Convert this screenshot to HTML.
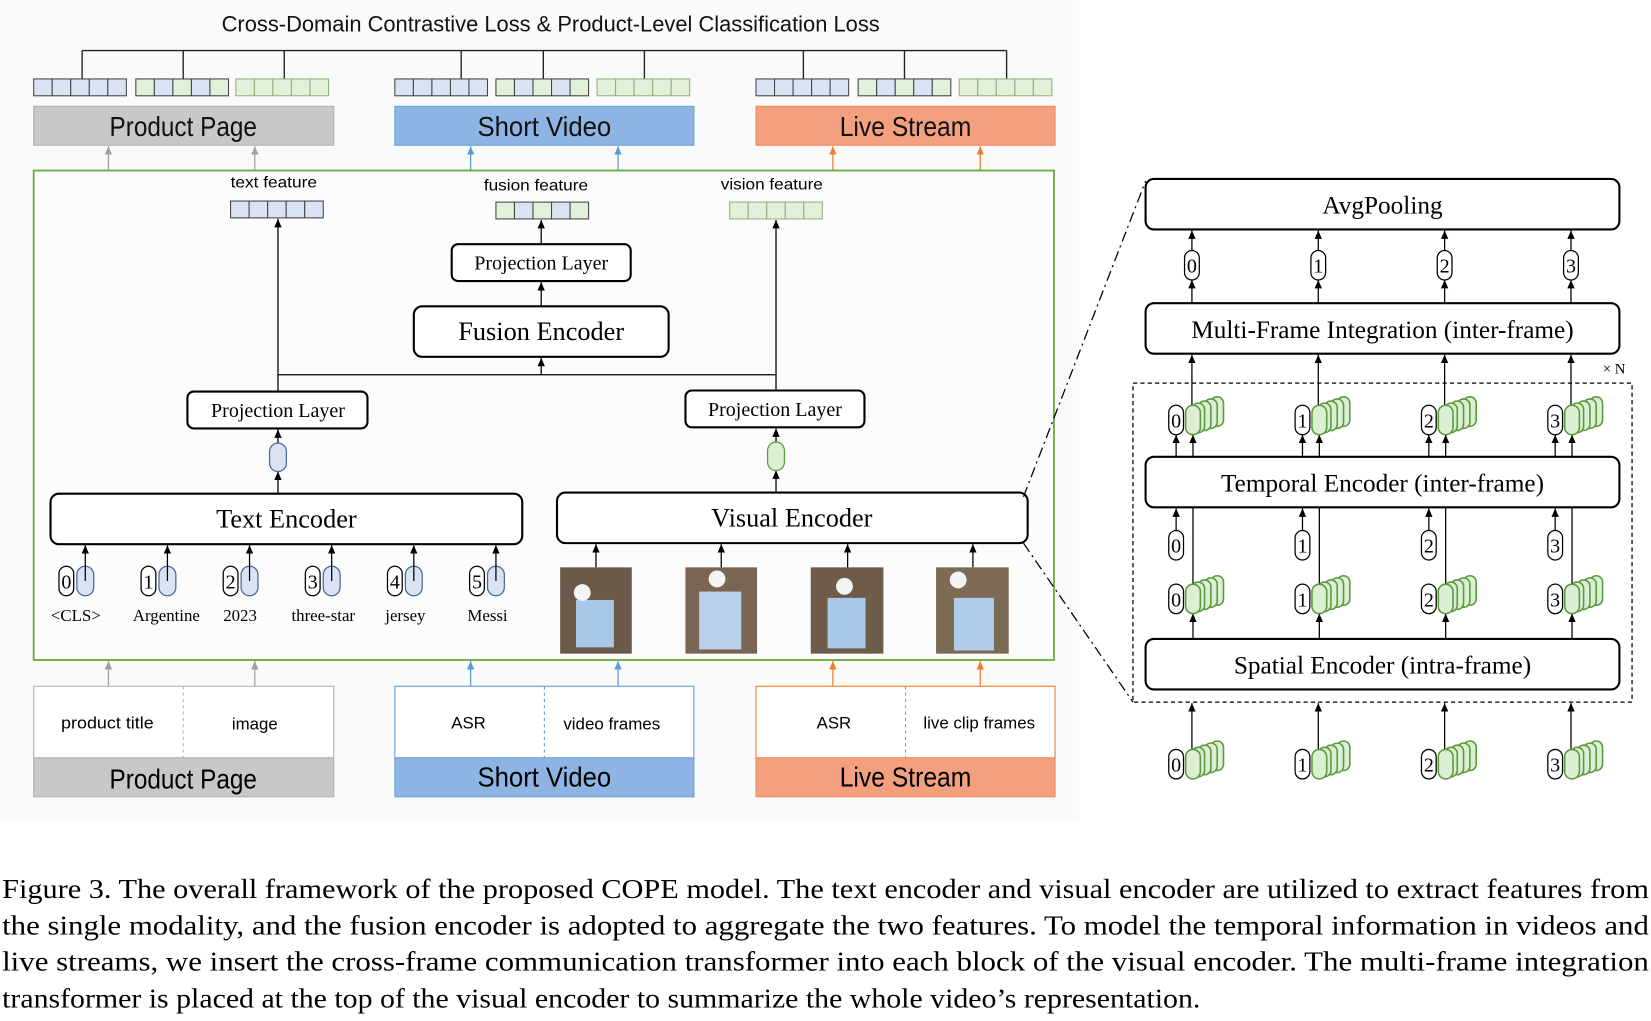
<!DOCTYPE html>
<html><head><meta charset="utf-8"><style>
html,body{margin:0;padding:0;background:#fff;}
svg{display:block;}
.c{font-family:"Liberation Sans Narrow","Liberation Sans",sans-serif;}
.t{font-family:"Liberation Serif",serif;}
</style></head><body>
<svg width="1651" height="1021" viewBox="0 0 1568 970" preserveAspectRatio="none" xmlns="http://www.w3.org/2000/svg">
<defs>
<marker id="a" markerWidth="9" markerHeight="8" refX="8" refY="4" orient="auto" markerUnits="userSpaceOnUse"><path d="M0,0.5 L8,4 L0,7.5 Z" fill="#000"/></marker>
<marker id="ag" markerWidth="9" markerHeight="8" refX="8" refY="4" orient="auto" markerUnits="userSpaceOnUse"><path d="M0,0.5 L8,4 L0,7.5 Z" fill="#a0a0a0"/></marker>
<marker id="ab" markerWidth="9" markerHeight="8" refX="8" refY="4" orient="auto" markerUnits="userSpaceOnUse"><path d="M0,0.5 L8,4 L0,7.5 Z" fill="#5b9bd5"/></marker>
<marker id="ao" markerWidth="9" markerHeight="8" refX="8" refY="4" orient="auto" markerUnits="userSpaceOnUse"><path d="M0,0.5 L8,4 L0,7.5 Z" fill="#ed7d31"/></marker>
<g id="vB"><rect x="0" y="0" width="17.6" height="16" fill="#dae3f3" stroke="#444"/><rect x="17.6" y="0" width="17.6" height="16" fill="#dae3f3" stroke="#444"/><rect x="35.2" y="0" width="17.6" height="16" fill="#dae3f3" stroke="#444"/><rect x="52.8" y="0" width="17.6" height="16" fill="#dae3f3" stroke="#444"/><rect x="70.4" y="0" width="17.6" height="16" fill="#dae3f3" stroke="#444"/></g>
<g id="vG"><rect x="0" y="0" width="17.6" height="16" fill="#e2efd9" stroke="#8fb07a"/><rect x="17.6" y="0" width="17.6" height="16" fill="#e2efd9" stroke="#8fb07a"/><rect x="35.2" y="0" width="17.6" height="16" fill="#e2efd9" stroke="#8fb07a"/><rect x="52.8" y="0" width="17.6" height="16" fill="#e2efd9" stroke="#8fb07a"/><rect x="70.4" y="0" width="17.6" height="16" fill="#e2efd9" stroke="#8fb07a"/></g>
<g id="vM"><rect x="0" y="0" width="17.6" height="16" fill="#e2efd9" stroke="#444"/><rect x="17.6" y="0" width="17.6" height="16" fill="#dae3f3" stroke="#444"/><rect x="35.2" y="0" width="17.6" height="16" fill="#e2efd9" stroke="#444"/><rect x="52.8" y="0" width="17.6" height="16" fill="#dae3f3" stroke="#444"/><rect x="70.4" y="0" width="17.6" height="16" fill="#e2efd9" stroke="#444"/></g>
<g id="stk" fill="#dcefd4" stroke="#5a9a3c" stroke-width="1.5">
<rect x="24" y="-8" width="12" height="28" rx="6"/><rect x="18" y="-6" width="12" height="28" rx="6"/><rect x="12" y="-4" width="12" height="28" rx="6"/><rect x="6" y="-2" width="12" height="28" rx="6"/><rect x="0" y="0" width="14" height="28" rx="7"/></g>
<rect id="cap" x="0" y="0" width="14" height="28" rx="7" fill="#fff" stroke="#000" stroke-width="1.2"/>
<rect id="capB" x="0" y="0" width="16" height="28" rx="8" fill="#dae3f3" stroke="#4a6a9a" stroke-width="1.2"/>
</defs>
<rect x="0" y="0" width="1025" height="780" fill="#fafafa"/>
<text class="c" x="523" y="30" font-size="21" text-anchor="middle" fill="#111" textLength="625" lengthAdjust="spacingAndGlyphs">Cross-Domain Contrastive Loss &amp; Product-Level Classification Loss</text>
<g stroke="#222" stroke-width="1.3" fill="none">
<path d="M78,48 H956 M78,48 V75 M174,48 V75 M270,48 V75 M438,48 V75 M516,48 V75 M612,48 V75 M763,48 V75 M859,48 V75 M956,48 V75"/>
</g>
<use href="#vB" x="32" y="75"/><use href="#vM" x="129" y="75"/><use href="#vG" x="224" y="75"/>
<use href="#vB" x="375" y="75"/><use href="#vM" x="471" y="75"/><use href="#vG" x="567" y="75"/>
<use href="#vB" x="718" y="75"/><use href="#vM" x="815" y="75"/><use href="#vG" x="911" y="75"/>
<rect x="32" y="101" width="285" height="37" fill="#c8c8c8" stroke="#b0b0b0"/>
<rect x="375" y="101" width="284" height="37" fill="#8db4e2" stroke="#6a9fd6"/>
<rect x="718" y="101" width="284" height="37" fill="#f4a07e" stroke="#ed8a5e"/>
<text class="c" x="174" y="129" font-size="26" text-anchor="middle" fill="#111" textLength="140" lengthAdjust="spacingAndGlyphs">Product Page</text>
<text class="c" x="517" y="129" font-size="26" text-anchor="middle" fill="#111" textLength="127" lengthAdjust="spacingAndGlyphs">Short Video</text>
<text class="c" x="860" y="129" font-size="26" text-anchor="middle" fill="#111" textLength="125" lengthAdjust="spacingAndGlyphs">Live Stream</text>
<g stroke-width="1.2">
<line x1="103" y1="162" x2="103" y2="139" stroke="#a0a0a0" marker-end="url(#ag)"/><line x1="242" y1="162" x2="242" y2="139" stroke="#a0a0a0" marker-end="url(#ag)"/>
<line x1="447" y1="162" x2="447" y2="139" stroke="#5b9bd5" marker-end="url(#ab)"/><line x1="587" y1="162" x2="587" y2="139" stroke="#5b9bd5" marker-end="url(#ab)"/>
<line x1="791" y1="162" x2="791" y2="139" stroke="#ed7d31" marker-end="url(#ao)"/><line x1="931" y1="162" x2="931" y2="139" stroke="#ed7d31" marker-end="url(#ao)"/>
<line x1="103" y1="652" x2="103" y2="628" stroke="#a0a0a0" marker-end="url(#ag)"/><line x1="242" y1="652" x2="242" y2="628" stroke="#a0a0a0" marker-end="url(#ag)"/>
<line x1="447" y1="652" x2="447" y2="628" stroke="#5b9bd5" marker-end="url(#ab)"/><line x1="587" y1="652" x2="587" y2="628" stroke="#5b9bd5" marker-end="url(#ab)"/>
<line x1="791" y1="652" x2="791" y2="628" stroke="#ed7d31" marker-end="url(#ao)"/><line x1="931" y1="652" x2="931" y2="628" stroke="#ed7d31" marker-end="url(#ao)"/>
</g>
<rect x="32" y="162" width="969" height="465" fill="#fcfcfc" stroke="#70ad47" stroke-width="1.8"/>
<text class="c" x="260" y="178" font-size="15" text-anchor="middle" textLength="82" lengthAdjust="spacingAndGlyphs">text feature</text>
<text class="c" x="509" y="181" font-size="15" text-anchor="middle" textLength="99" lengthAdjust="spacingAndGlyphs">fusion feature</text>
<text class="c" x="733" y="180" font-size="15" text-anchor="middle" textLength="97" lengthAdjust="spacingAndGlyphs">vision feature</text>
<use href="#vB" x="219" y="191"/><use href="#vM" x="471" y="192"/><use href="#vG" x="693" y="192"/>
<g fill="#fff" stroke="#000" stroke-width="2">
<rect x="429" y="232" width="170" height="35" rx="6"/>
<rect x="393" y="291" width="242" height="48" rx="8"/>
<rect x="178" y="372" width="171" height="35" rx="6"/>
<rect x="651" y="371" width="170" height="35" rx="6"/>
<rect x="48" y="469" width="448" height="48" rx="8"/>
<rect x="529" y="468" width="447" height="48" rx="8"/>
</g>
<g class="t" text-anchor="middle" fill="#000">
<text x="514" y="256" font-size="19">Projection Layer</text>
<text x="514" y="323" font-size="25">Fusion Encoder</text>
<text x="264" y="396" font-size="19">Projection Layer</text>
<text x="736" y="395" font-size="19">Projection Layer</text>
<text x="272" y="501" font-size="25">Text Encoder</text>
<text x="752" y="500" font-size="25">Visual Encoder</text>
</g>
<g stroke="#000" stroke-width="1.2" fill="none">
<line x1="514" y1="232" x2="514" y2="209" marker-end="url(#a)"/>
<line x1="514" y1="291" x2="514" y2="268" marker-end="url(#a)"/>
<path d="M264,356 H737"/>
<line x1="514" y1="356" x2="514" y2="340" marker-end="url(#a)"/>
<line x1="264" y1="372" x2="264" y2="208" marker-end="url(#a)"/>
<line x1="737" y1="371" x2="737" y2="209" marker-end="url(#a)"/>
<line x1="264" y1="421" x2="264" y2="408" marker-end="url(#a)"/>
<line x1="264" y1="469" x2="264" y2="448" marker-end="url(#a)"/>
<line x1="737" y1="420" x2="737" y2="407" marker-end="url(#a)"/>
<line x1="737" y1="468" x2="737" y2="447" marker-end="url(#a)"/>
</g>
<rect x="256" y="421" width="16" height="27" rx="8" fill="#dae3f3" stroke="#4a6a9a" stroke-width="1.2"/>
<rect x="729" y="420" width="16" height="27" rx="8" fill="#dcefd4" stroke="#5a9a3c" stroke-width="1.2"/>
<g>
<use href="#cap" x="56" y="538"/><use href="#capB" x="73" y="538"/>
<use href="#cap" x="134" y="538"/><use href="#capB" x="151" y="538"/>
<use href="#cap" x="212" y="538"/><use href="#capB" x="229" y="538"/>
<use href="#cap" x="290" y="538"/><use href="#capB" x="307" y="538"/>
<use href="#cap" x="368" y="538"/><use href="#capB" x="385" y="538"/>
<use href="#cap" x="446" y="538"/><use href="#capB" x="463" y="538"/>
</g>
<g class="t" font-size="19" text-anchor="middle">
<text x="63" y="559">0</text><text x="141" y="559">1</text><text x="219" y="559">2</text><text x="297" y="559">3</text><text x="375" y="559">4</text><text x="453" y="559">5</text>
</g>
<g stroke="#000" stroke-width="1.2">
<line x1="81" y1="552" x2="81" y2="518" marker-end="url(#a)"/><line x1="159" y1="552" x2="159" y2="518" marker-end="url(#a)"/>
<line x1="237" y1="552" x2="237" y2="518" marker-end="url(#a)"/><line x1="315" y1="552" x2="315" y2="518" marker-end="url(#a)"/>
<line x1="393" y1="552" x2="393" y2="518" marker-end="url(#a)"/><line x1="471" y1="552" x2="471" y2="518" marker-end="url(#a)"/>
<line x1="566" y1="539" x2="566" y2="517" marker-end="url(#a)"/><line x1="685" y1="539" x2="685" y2="517" marker-end="url(#a)"/>
<line x1="805" y1="539" x2="805" y2="517" marker-end="url(#a)"/><line x1="924" y1="539" x2="924" y2="517" marker-end="url(#a)"/>
</g>
<g class="t" font-size="16" text-anchor="middle">
<text x="72" y="590">&lt;CLS&gt;</text><text x="158" y="590">Argentine</text><text x="228" y="590">2023</text><text x="307" y="590">three-star</text><text x="385" y="590">jersey</text><text x="463" y="590">Messi</text>
</g>
<g>
<rect x="532" y="539" width="68" height="82" fill="#6b5a4a"/><rect x="547" y="570" width="36" height="45" fill="#a9c8e8"/><circle cx="553" cy="563" r="8" fill="#f4f4f4"/>
<rect x="651" y="539" width="68" height="82" fill="#7a6552"/><rect x="664" y="562" width="40" height="55" fill="#b8d2ec"/><circle cx="681" cy="550" r="8" fill="#f4f4f4"/>
<rect x="770" y="539" width="69" height="82" fill="#6e5b49"/><rect x="786" y="568" width="36" height="48" fill="#a9c8e8"/><circle cx="802" cy="557" r="8" fill="#f4f4f4"/>
<rect x="889" y="539" width="69" height="82" fill="#7d6a55"/><rect x="906" y="568" width="38" height="50" fill="#b0cce8"/><circle cx="910" cy="551" r="8" fill="#f4f4f4"/>
</g>
<rect x="32" y="652" width="285" height="68" fill="#fff" stroke="#b0b0b0"/>
<rect x="375" y="652" width="284" height="68" fill="#fff" stroke="#5b9bd5"/>
<rect x="718" y="652" width="284" height="68" fill="#fff" stroke="#ed7d31"/>
<g stroke-dasharray="3,3" stroke-width="1">
<line x1="174" y1="652" x2="174" y2="720" stroke="#b0b0b0"/><line x1="517" y1="652" x2="517" y2="720" stroke="#5b9bd5"/><line x1="860" y1="652" x2="860" y2="720" stroke="#ed7d31"/>
</g>
<rect x="32" y="720" width="285" height="37" fill="#c8c8c8" stroke="#b0b0b0"/>
<rect x="375" y="720" width="284" height="37" fill="#8db4e2" stroke="#6a9fd6"/>
<rect x="718" y="720" width="284" height="37" fill="#f4a07e" stroke="#ed8a5e"/>
<text class="c" x="174" y="749" font-size="26" text-anchor="middle" textLength="140" lengthAdjust="spacingAndGlyphs">Product Page</text>
<text class="c" x="517" y="747" font-size="26" text-anchor="middle" textLength="127" lengthAdjust="spacingAndGlyphs">Short Video</text>
<text class="c" x="860" y="747" font-size="26" text-anchor="middle" textLength="125" lengthAdjust="spacingAndGlyphs">Live Stream</text>
<g class="c" font-size="16" text-anchor="middle">
<text x="102" y="692" textLength="88" lengthAdjust="spacingAndGlyphs">product title</text><text x="242" y="693">image</text>
<text x="445" y="692">ASR</text><text x="581" y="693" textLength="92" lengthAdjust="spacingAndGlyphs">video frames</text>
<text x="792" y="692">ASR</text><text x="930" y="692" textLength="106" lengthAdjust="spacingAndGlyphs">live clip frames</text>
</g>
<g stroke="#000" stroke-width="1.2" stroke-dasharray="10,4,2,4" fill="none">
<line x1="972" y1="472" x2="1088" y2="172"/><line x1="972" y1="516" x2="1076" y2="667"/>
</g>
<rect x="1076" y="364" width="474" height="303" fill="none" stroke="#000" stroke-width="1.2" stroke-dasharray="4,3"/>
<text class="t" x="1533" y="355" font-size="14" text-anchor="middle">× N</text>
<g fill="#fff" stroke="#000" stroke-width="2">
<rect x="1088" y="170" width="450" height="48" rx="8"/>
<rect x="1088" y="288" width="450" height="48" rx="8"/>
<rect x="1088" y="434" width="450" height="48" rx="8"/>
<rect x="1088" y="607" width="450" height="48" rx="8"/>
</g>
<g class="t" text-anchor="middle" font-size="24">
<text x="1313" y="203">AvgPooling</text>
<text x="1313" y="321">Multi-Frame Integration (inter-frame)</text>
<text x="1313" y="467">Temporal Encoder (inter-frame)</text>
<text x="1313" y="640">Spatial Encoder (intra-frame)</text>
</g>
<g stroke="#000" stroke-width="1.2">
<line x1="1132" y1="288" x2="1132" y2="266" marker-end="url(#a)"/><line x1="1132" y1="238" x2="1132" y2="219" marker-end="url(#a)"/>
<line x1="1252" y1="288" x2="1252" y2="266" marker-end="url(#a)"/><line x1="1252" y1="238" x2="1252" y2="219" marker-end="url(#a)"/>
<line x1="1372" y1="288" x2="1372" y2="266" marker-end="url(#a)"/><line x1="1372" y1="238" x2="1372" y2="219" marker-end="url(#a)"/>
<line x1="1492" y1="288" x2="1492" y2="266" marker-end="url(#a)"/><line x1="1492" y1="238" x2="1492" y2="219" marker-end="url(#a)"/>
<line x1="1132" y1="385" x2="1132" y2="337" marker-end="url(#a)"/><line x1="1252" y1="385" x2="1252" y2="337" marker-end="url(#a)"/>
<line x1="1372" y1="385" x2="1372" y2="337" marker-end="url(#a)"/><line x1="1492" y1="385" x2="1492" y2="337" marker-end="url(#a)"/>
<line x1="1117" y1="434" x2="1117" y2="413" marker-end="url(#a)"/><line x1="1133" y1="434" x2="1133" y2="413" marker-end="url(#a)"/>
<line x1="1237" y1="434" x2="1237" y2="413" marker-end="url(#a)"/><line x1="1253" y1="434" x2="1253" y2="413" marker-end="url(#a)"/>
<line x1="1357" y1="434" x2="1357" y2="413" marker-end="url(#a)"/><line x1="1373" y1="434" x2="1373" y2="413" marker-end="url(#a)"/>
<line x1="1477" y1="434" x2="1477" y2="413" marker-end="url(#a)"/><line x1="1493" y1="434" x2="1493" y2="413" marker-end="url(#a)"/>
<line x1="1117" y1="504" x2="1117" y2="483" marker-end="url(#a)"/><line x1="1237" y1="504" x2="1237" y2="483" marker-end="url(#a)"/>
<line x1="1357" y1="504" x2="1357" y2="483" marker-end="url(#a)"/><line x1="1477" y1="504" x2="1477" y2="483" marker-end="url(#a)"/>
<line x1="1133" y1="555" x2="1133" y2="482"/><line x1="1253" y1="555" x2="1253" y2="482"/>
<line x1="1373" y1="555" x2="1373" y2="482"/><line x1="1493" y1="555" x2="1493" y2="482"/>
<line x1="1133" y1="607" x2="1133" y2="583" marker-end="url(#a)"/><line x1="1253" y1="607" x2="1253" y2="583" marker-end="url(#a)"/>
<line x1="1373" y1="607" x2="1373" y2="583" marker-end="url(#a)"/><line x1="1493" y1="607" x2="1493" y2="583" marker-end="url(#a)"/>
<line x1="1132" y1="712" x2="1132" y2="668" marker-end="url(#a)"/><line x1="1252" y1="712" x2="1252" y2="668" marker-end="url(#a)"/>
<line x1="1372" y1="712" x2="1372" y2="668" marker-end="url(#a)"/><line x1="1492" y1="712" x2="1492" y2="668" marker-end="url(#a)"/>
</g>
<use href="#cap" x="1125" y="238"/><use href="#cap" x="1245" y="238"/><use href="#cap" x="1365" y="238"/><use href="#cap" x="1485" y="238"/>
<use href="#stk" x="1126" y="385"/><use href="#stk" x="1246" y="385"/><use href="#stk" x="1366" y="385"/><use href="#stk" x="1486" y="385"/>
<use href="#cap" x="1110" y="385"/><use href="#cap" x="1230" y="385"/><use href="#cap" x="1350" y="385"/><use href="#cap" x="1470" y="385"/>
<use href="#cap" x="1110" y="504"/><use href="#cap" x="1230" y="504"/><use href="#cap" x="1350" y="504"/><use href="#cap" x="1470" y="504"/>
<use href="#stk" x="1126" y="555"/><use href="#stk" x="1246" y="555"/><use href="#stk" x="1366" y="555"/><use href="#stk" x="1486" y="555"/>
<use href="#cap" x="1110" y="555"/><use href="#cap" x="1230" y="555"/><use href="#cap" x="1350" y="555"/><use href="#cap" x="1470" y="555"/>
<use href="#stk" x="1126" y="712"/><use href="#stk" x="1246" y="712"/><use href="#stk" x="1366" y="712"/><use href="#stk" x="1486" y="712"/>
<use href="#cap" x="1110" y="712"/><use href="#cap" x="1230" y="712"/><use href="#cap" x="1350" y="712"/><use href="#cap" x="1470" y="712"/>
<g class="t" font-size="19" text-anchor="middle">
<text x="1132" y="259">0</text><text x="1252" y="259">1</text><text x="1372" y="259">2</text><text x="1492" y="259">3</text>
<text x="1117" y="406">0</text><text x="1237" y="406">1</text><text x="1357" y="406">2</text><text x="1477" y="406">3</text>
<text x="1117" y="525">0</text><text x="1237" y="525">1</text><text x="1357" y="525">2</text><text x="1477" y="525">3</text>
<text x="1117" y="576">0</text><text x="1237" y="576">1</text><text x="1357" y="576">2</text><text x="1477" y="576">3</text>
<text x="1117" y="733">0</text><text x="1237" y="733">1</text><text x="1357" y="733">2</text><text x="1477" y="733">3</text>
</g>
<g class="t" font-size="26.5" fill="#000">
<text x="2" y="853" textLength="1564" lengthAdjust="spacingAndGlyphs">Figure 3. The overall framework of the proposed COPE model. The text encoder and visual encoder are utilized to extract features from</text>
<text x="2" y="888" textLength="1564" lengthAdjust="spacingAndGlyphs">the single modality, and the fusion encoder is adopted to aggregate the two features. To model the temporal information in videos and</text>
<text x="2" y="922" textLength="1564" lengthAdjust="spacingAndGlyphs">live streams, we insert the cross-frame communication transformer into each block of the visual encoder. The multi-frame integration</text>
<text x="2" y="957" textLength="1138" lengthAdjust="spacingAndGlyphs">transformer is placed at the top of the visual encoder to summarize the whole video’s representation.</text>
</g>
</svg>
</body></html>
